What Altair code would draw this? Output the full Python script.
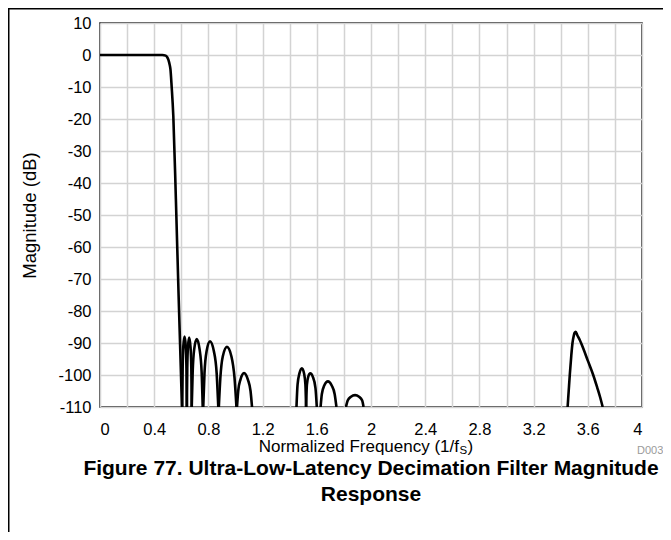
import altair as alt
import pandas as pd

# ---- data ----
passband_x = [0.0, 0.30, 0.46, 0.485, 0.495, 0.505, 0.513, 0.520, 0.529, 0.541, 0.560, 0.580, 0.605]
passband_y = [0.0, 0.0, 0.0, -0.2, -0.6, -1.5, -2.8, -4.5, -10.0, -19.0, -45.0, -75.0, -110.0]

lobe1_x = [0.607, 0.610, 0.615, 0.624, 0.633, 0.638, 0.641]
lobe1_y = [-110, -98, -91, -88, -91, -98, -110]
lobe2_x = [0.641, 0.644, 0.649, 0.658, 0.668, 0.674, 0.677]
lobe2_y = [-110, -98, -91.3, -88.3, -91.3, -98, -110]
lobe3_x = [0.677, 0.684, 0.695, 0.714, 0.735, 0.750, 0.758]
lobe3_y = [-110, -99, -92, -88.8, -92, -99, -110]
lobe4_x = [0.762, 0.771, 0.787, 0.812, 0.840, 0.861, 0.873]
lobe4_y = [-110, -99.5, -92.5, -89.5, -92.5, -99.5, -110]
lobe5_x = [0.877, 0.888, 0.906, 0.937, 0.970, 0.993, 1.007]
lobe5_y = [-110, -101, -94.2, -91.2, -94.2, -101, -110]
lobe6_x = [1.011, 1.020, 1.036, 1.063, 1.092, 1.111, 1.122]
lobe6_y = [-110, -105, -101.5, -99.4, -101.5, -105, -110]

lobe7_x = [1.450, 1.458, 1.472, 1.490, 1.506, 1.516, 1.521]
lobe7_y = [-110, -103, -99.5, -97.9, -99.5, -103, -110]
lobe8_x = [1.521, 1.527, 1.537, 1.552, 1.570, 1.590, 1.600]
lobe8_y = [-110, -103, -100.5, -99.5, -100.5, -104, -110]
lobe9_x = [1.628, 1.637, 1.655, 1.682, 1.710, 1.732, 1.745]
lobe9_y = [-110, -106, -103.3, -102, -103.3, -106, -110]
lobe10_x = [1.815, 1.828, 1.852, 1.882, 1.912, 1.935, 1.945]
lobe10_y = [-110, -108, -106.8, -106.3, -106.8, -108, -110]

image_x = [3.451, 3.459, 3.467, 3.478, 3.487, 3.496, 3.503, 3.511, 3.522, 3.540, 3.555, 3.600, 3.640, 3.670, 3.690, 3.710]
image_y = [-110, -105, -100, -94, -90, -87.8, -86.8, -86.5, -87.5, -89, -90.5, -95.5, -100, -104, -106.8, -110]

x_grid_values = [0, 0.2, 0.4, 0.6, 0.8, 1.0, 1.2, 1.4, 1.6, 1.8, 2.0, 2.2, 2.4, 2.6, 2.8, 3.0,
                 3.2, 3.4, 3.6, 3.8, 4.0]
y_tick_values = [10, 0, -10, -20, -30, -40, -50, -60, -70, -80, -90, -100, -110]

x_title_main = "Normalized Frequency (1/f"
x_title_sub = "S"
x_title_end = ")"
fig_title_1 = "Figure 77. Ultra-Low-Latency Decimation Filter Magnitude"
fig_title_2 = "Response"
doc_id = "D003"

segments = [
    ("passband", passband_x, passband_y),
    ("lobe1", lobe1_x, lobe1_y), ("lobe2", lobe2_x, lobe2_y),
    ("lobe3", lobe3_x, lobe3_y), ("lobe4", lobe4_x, lobe4_y),
    ("lobe5", lobe5_x, lobe5_y), ("lobe6", lobe6_x, lobe6_y),
    ("lobe7", lobe7_x, lobe7_y), ("lobe8", lobe8_x, lobe8_y),
    ("lobe9", lobe9_x, lobe9_y), ("lobe10", lobe10_x, lobe10_y),
    ("image", image_x, image_y),
]
rows = []
for name, xs, ys in segments:
    for i, (xv, yv) in enumerate(zip(xs, ys)):
        rows.append({"seg": name, "idx": i, "f": xv, "mag": yv})
df = pd.DataFrame(rows)

FONT = "Liberation Sans"
W, H = 542, 384
PAD = {"left": 92, "top": 15, "right": 21, "bottom": 125}

line = alt.Chart(df).mark_line(
    color="black", strokeWidth=2.6, interpolate="monotone", clip=True
).encode(
    x=alt.X("f:Q", scale=alt.Scale(domain=[0, 4], nice=False, zero=False),
            axis=alt.Axis(values=x_grid_values, title=None, grid=True, ticks=False,
                          domain=False, labelPadding=14,
                          labelExpr="(round(datum.value*10) % 4 == 0) ? ('' + datum.value) : ''")),
    y=alt.Y("mag:Q", scale=alt.Scale(domain=[-110, 10], nice=False, zero=False),
            axis=alt.Axis(values=y_tick_values, title="Magnitude (dB)", grid=True,
                          ticks=False, domain=False, labelPadding=9, titlePadding=18,
                          labelExpr="'' + datum.value")),
    detail="seg:N",
    order="idx:Q",
)

one = pd.DataFrame({"k": [0]})

def txt(text, x, y, size=15, weight="normal", align="left", baseline="alphabetic", color="black"):
    return alt.Chart(one).mark_text(
        text=text, font=FONT, fontSize=size, fontWeight=weight, align=align,
        baseline=baseline, color=color, clip=False
    ).encode(x=alt.value(x), y=alt.value(y))

xt_anchor = 359
texts = [
    txt(x_title_main, xt_anchor, 429, size=17, align="right"),
    txt(x_title_sub, xt_anchor + 0.5, 431, size=11.5),
    txt(x_title_end, xt_anchor + 8.5, 429, size=17),
    txt(doc_id, 537, 431, size=11, color="#9a9a9a"),
    txt(fig_title_1, W / 2, 445.5, size=21, weight="bold", align="center", baseline="middle"),
    txt(fig_title_2, W / 2, 471.5, size=21, weight="bold", align="center", baseline="middle"),
]

frame_left = alt.Chart(one).mark_rule(color="black", strokeWidth=1.5, clip=False).encode(
    x=alt.value(-91.25), y=alt.value(-15), y2=alt.value(H + PAD["bottom"]))
frame_top = alt.Chart(one).mark_rule(color="black", strokeWidth=1.5, clip=False).encode(
    x=alt.value(-92), x2=alt.value(W + PAD["right"]), y=alt.value(-14.25))

chart = alt.layer(line, frame_left, frame_top, *texts).properties(
    width=W, height=H,
    autosize=alt.AutoSizeParams(type="none"),
    padding=PAD,
    background="white",
).configure_view(
    stroke="#111", strokeWidth=1.5
).configure_axis(
    labelFont=FONT, labelFontSize=16.5, labelColor="black",
    titleFont=FONT, titleFontSize=18.5, titleFontWeight="normal", titleColor="black",
    gridColor="#d3d3d3", gridWidth=1.5,
)

chart.save("out.html", embed_options={"renderer": "svg", "actions": False})
